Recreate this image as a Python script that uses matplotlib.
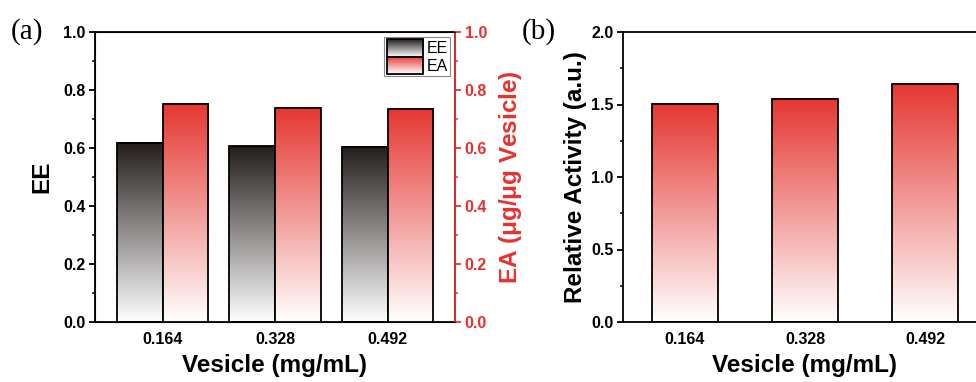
import numpy as np
import matplotlib
matplotlib.use('Agg')
import matplotlib.pyplot as plt
from matplotlib.patches import Rectangle
from matplotlib.image import BboxImage
from matplotlib.transforms import Bbox, TransformedBbox
from matplotlib.legend_handler import HandlerBase
from matplotlib.ticker import MultipleLocator

plt.rcParams['font.family'] = ['Liberation Sans', 'DejaVu Sans']

vesicle = ['0.164', '0.328', '0.492']
ee = [0.618, 0.606, 0.604]
ea = [0.753, 0.738, 0.735]
rel_activity = [1.506, 1.538, 1.644]

dark = np.array([35, 30, 28]) / 255.
red = np.array([229, 55, 50]) / 255.
RED = '#e8312f'


def grad(color, n=256):
    t = np.linspace(0, 1, n)[:, None]
    c = (1 - t) * np.ones(3) + t * color
    return c[:, None, :]


def grad_bar(ax, x, h, w, color):
    ax.imshow(grad(color), extent=(x - w / 2, x + w / 2, 0, h), origin='lower',
              aspect='auto', interpolation='bilinear', zorder=2)
    ax.bar(x, h, w, facecolor='none', edgecolor='black', linewidth=1.3, zorder=3)


class HandlerGrad(HandlerBase):
    def __init__(self, color):
        super().__init__()
        self.color = color

    def create_artists(self, legend, orig_handle, xdescent, ydescent, width, height, fontsize, trans):
        bb = TransformedBbox(Bbox.from_bounds(-xdescent, -ydescent, width, height), trans)
        img = BboxImage(bb, origin='lower', interpolation='bilinear')
        img.set_data(grad(self.color, 64))
        rect = Rectangle((-xdescent, -ydescent), width, height, facecolor='none',
                         edgecolor='black', linewidth=1.3, transform=trans)
        return [img, rect]


fig = plt.figure(figsize=(9.76, 3.82), dpi=100)
W, H = 976., 382.


def style_y(ax, major, minor, color='black'):
    ax.yaxis.set_major_locator(MultipleLocator(major))
    ax.yaxis.set_minor_locator(MultipleLocator(minor))
    ax.tick_params(axis='y', which='major', direction='out', length=4, width=1.3, colors=color,
                   labelsize=11.5, pad=3)
    ax.tick_params(axis='y', which='minor', direction='out', length=2, width=1.1, colors=color)
    for lab in ax.get_yticklabels():
        lab.set_fontweight('bold')

# panel (a)
x = np.arange(1, len(vesicle) + 1)
bw = 0.405
ax = fig.add_axes([95 / W, 1 - 322 / H, 360 / W, 290 / H])
for xi, v in zip(x, ee):
    grad_bar(ax, xi - bw / 2, v, bw, dark)
ax.set_xlim(0.4, 3.6)
ax.set_ylim(0, 1.0)
ax.set_xticks(x)
ax.set_xticklabels(vesicle, fontweight='bold', fontsize=11.5)
ax.tick_params(axis='x', length=0, pad=7)
style_y(ax, 0.2, 0.1)
ax.set_ylabel('EE', fontsize=17.5, fontweight='bold', labelpad=6.5)
ax.set_xlabel('Vesicle (mg/mL)', fontsize=17.5, fontweight='bold', labelpad=5)
for s in ax.spines.values():
    s.set_linewidth(1.3)

ax2 = ax.twinx()
for xi, v in zip(x, ea):
    grad_bar(ax2, xi + bw / 2, v, bw, red)
ax2.set_xlim(0.4, 3.6)
ax2.set_ylim(0, 1.0)
style_y(ax2, 0.2, 0.1, color=RED)
ax2.spines['right'].set_color(RED)
ax2.spines['right'].set_linewidth(1.3)
ax2.set_ylabel(r'EA ($\mathregular{\mu}$g/$\mathregular{\mu}$g Vesicle)', fontsize=17.5,
               fontweight='bold', color=RED, labelpad=7)
for lab in ax2.get_yticklabels():
    lab.set_fontweight('bold')
    lab.set_color(RED)
h1 = Rectangle((0, 0), 1, 1)
h2 = Rectangle((0, 0), 1, 1)
leg = ax2.legend([h1, h2], ['EE', 'EA'], loc='upper right', fontsize=11.5,
                 handler_map={h1: HandlerGrad(dark), h2: HandlerGrad(red)},
                 handlelength=2.3, handleheight=1.3, handletextpad=0.2, labelspacing=0.0,
                 borderpad=0.15, borderaxespad=0.3, fancybox=False, framealpha=1,
                 edgecolor='#888888')
leg.get_frame().set_linewidth(0.8)

fig.text(11 / W, 1 - 39 / H, '(a)', fontsize=21, family='Liberation Serif', va='baseline')

# panel (b)
bx = fig.add_axes([623 / W, 1 - 322 / H, 364 / W, 290 / H])
bw2 = 0.55
for xi, v in zip(x, rel_activity):
    grad_bar(bx, xi, v, bw2, red)
bx.set_xlim(1 - 62 / 120., 3 + 62 / 120.)
bx.set_ylim(0, 2.0)
bx.set_xticks(x)
bx.set_xticklabels(vesicle, fontweight='bold', fontsize=11.5)
bx.tick_params(axis='x', length=0, pad=7)
style_y(bx, 0.5, 0.25)
bx.set_ylabel('Relative Activity (a.u.)', fontsize=17.5, fontweight='bold', labelpad=3)
bx.set_xlabel('Vesicle (mg/mL)', fontsize=17.5, fontweight='bold', labelpad=5)
for s in bx.spines.values():
    s.set_linewidth(1.3)

fig.text(522 / W, 1 - 39 / H, '(b)', fontsize=21, family='Liberation Serif', va='baseline')

fig.savefig('out.png', dpi=100)
